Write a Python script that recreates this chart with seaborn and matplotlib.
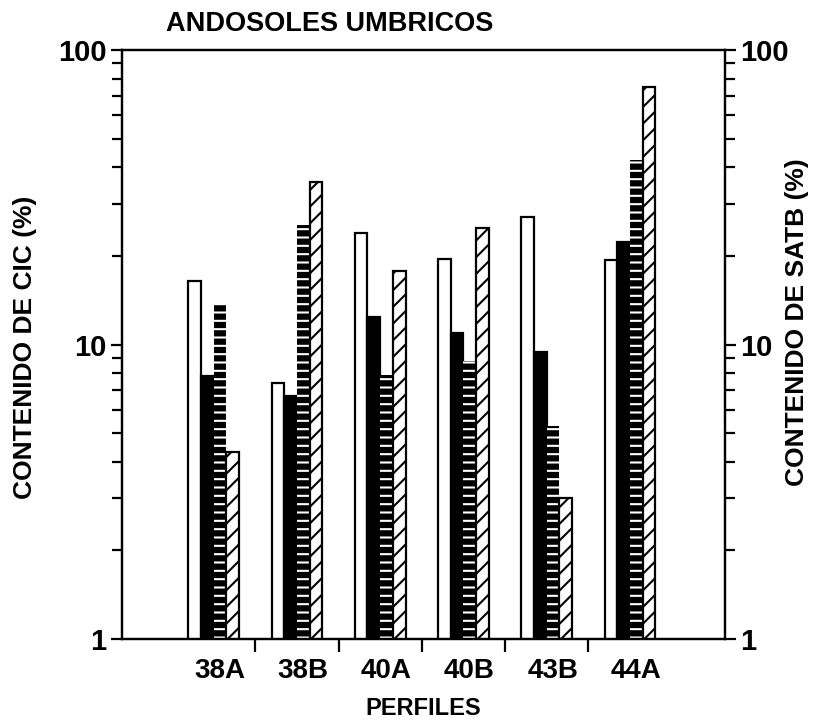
import matplotlib
matplotlib.use("Agg")
import matplotlib.pyplot as plt
import matplotlib.transforms as mtransforms
from matplotlib.ticker import FixedLocator, NullFormatter, FixedFormatter
import seaborn as sns
import pandas as pd

# ---- data ----
perfiles = ["38A", "38B", "40A", "40B", "43B", "44A"]
serie_1 = [16.4, 7.4, 24.0, 19.5, 27.2, 19.4]   # white bars
serie_2 = [7.8, 6.7, 12.4, 10.9, 9.4, 22.2]     # black bars
serie_3 = [13.7, 25.5, 7.9, 8.8, 5.3, 42.3]     # horizontal hatched bars
serie_4 = [4.3, 35.7, 17.7, 24.8, 3.0, 75.1]    # diagonal hatched bars
series_names = ["Serie 1", "Serie 2", "Serie 3", "Serie 4"]
y_ticks = [1, 10, 100]
y_ticklabels = ["1", "10", "100"]

df = pd.DataFrame({
    "perfil": perfiles * 4,
    "valor": serie_1 + serie_2 + serie_3 + serie_4,
    "serie": sum([[n] * len(perfiles) for n in series_names], []),
})

sns.set_style("ticks")
plt.rcParams["font.family"] = ["Liberation Sans", "DejaVu Sans"]
plt.rcParams["hatch.linewidth"] = 1.5
plt.rcParams["text.color"] = "black"
plt.rcParams["axes.labelcolor"] = "black"
plt.rcParams["xtick.color"] = "black"
plt.rcParams["ytick.color"] = "black"

fig = plt.figure(figsize=(8.4, 7.25), dpi=100)
ax = fig.add_axes([122 / 840, 1 - 639 / 725, (725 - 122) / 840, (639 - 50) / 725])

sns.barplot(data=df, x="perfil", y="valor", hue="serie", order=perfiles,
            hue_order=series_names, width=0.61, dodge=True, ax=ax,
            palette=["white", "black", "black", "white"], legend=False,
            saturation=1, errorbar=None)

ax.set_yscale("log")
ax.set_ylim(1, 100)
ax.set_xlim(-1.10, 5 + 1.14)

lw = 1.6
for i, cont in enumerate(ax.containers):
    for p in cont.patches:
        if i == 0:
            p.set_facecolor("white"); p.set_edgecolor("black"); p.set_linewidth(lw)
        elif i == 1:
            p.set_facecolor("black"); p.set_edgecolor("black"); p.set_linewidth(lw)
        elif i == 2:
            p.set_facecolor("black"); p.set_edgecolor("white")
            p.set_hatch("--"); p.set_linewidth(0)
        else:
            p.set_facecolor("white"); p.set_edgecolor("black")
            p.set_hatch("//"); p.set_linewidth(lw)

for s in ax.spines.values():
    s.set_visible(True)
    s.set_linewidth(1.6)
    s.set_color("black")

# y ticks left
ax.yaxis.set_major_locator(FixedLocator(y_ticks))
ax.yaxis.set_major_formatter(FixedFormatter(y_ticklabels))
ax.yaxis.set_minor_formatter(NullFormatter())
ax.tick_params(axis="y", which="major", direction="out", length=8, width=1.6,
               labelsize=21, pad=3)
ax.tick_params(axis="y", which="minor", direction="out", length=7, width=1.6)
for t in ax.get_yticklabels():
    t.set_fontweight("bold")

# x ticks: labels at groups, tick marks between groups
ax.set_xticks(range(len(perfiles)))
ax.set_xticklabels(perfiles, fontsize=20, fontweight="bold")
ax.set_xticks([0.5, 1.5, 2.5, 3.5, 4.5], minor=True)
ax.tick_params(axis="x", which="major", length=0, pad=14)
ax.tick_params(axis="x", which="minor", direction="out", length=9, width=1.6)
off = mtransforms.ScaledTranslation(6 / 100, 0, fig.dpi_scale_trans)
for t in ax.get_xticklabels():
    t.set_transform(t.get_transform() + off)

ax.set_xlabel("PERFILES", fontsize=17, fontweight="bold")
ax.xaxis.set_label_coords(0.5, -(697 - 639) / 589)
ax.set_ylabel("CONTENIDO DE CIC (%)", fontsize=19, fontweight="bold")
ax.yaxis.set_label_coords((37 - 122) / 603, (639 - 347) / 589)

# right axis
ax2 = ax.twinx()
ax2.set_yscale("log")
ax2.set_ylim(1, 100)
ax2.yaxis.set_major_locator(FixedLocator(y_ticks))
ax2.yaxis.set_major_formatter(FixedFormatter(y_ticklabels))
ax2.yaxis.set_minor_formatter(NullFormatter())
ax2.tick_params(axis="y", which="major", direction="out", length=8, width=1.6,
                labelsize=21, pad=3)
ax2.tick_params(axis="y", which="minor", direction="out", length=7, width=1.6)
for t in ax2.get_yticklabels():
    t.set_fontweight("bold")
for s in ax2.spines.values():
    s.set_linewidth(1.6)
    s.set_color("black")
ax2.set_ylabel("CONTENIDO DE SATB (%)", fontsize=19, fontweight="bold")
ax2.yaxis.set_label_coords((785 - 122) / 603, (639 - 322) / 589)

fig.text(330 / 840, 1 - 24 / 725, "ANDOSOLES UMBRICOS", fontsize=19.5,
         fontweight="bold", ha="center", va="center")

fig.savefig("out.png", dpi=100)
